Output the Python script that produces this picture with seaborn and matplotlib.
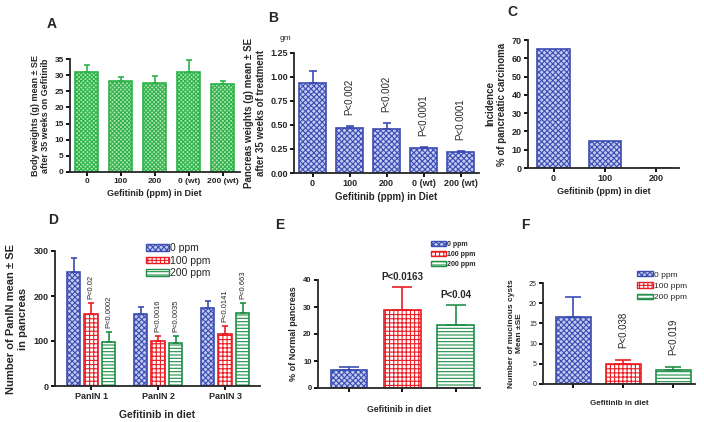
import matplotlib
matplotlib.use("Agg")
import matplotlib.pyplot as plt
from matplotlib.patches import Patch
import numpy as np
import pandas as pd
import seaborn as sns

# ── data ────────────────────────────────────────────────────────────────────
A_DOSES = ["0", "100", "200", "0 (wt)", "200 (wt)"]
A_MEAN = [30.9, 28.3, 27.6, 31.0, 27.3]
A_SE = [2.2, 1.0, 2.2, 3.8, 1.0]

B_DOSES = ["0", "100", "200", "0 (wt)", "200 (wt)"]
B_MEAN = [0.94, 0.47, 0.455, 0.26, 0.218]
B_SE = [0.12, 0.022, 0.063, 0.013, 0.006]
B_PVALS = ["", "P<0.002", "P<0.002", "P<0.0001", "P<0.0001"]

C_DOSES = ["0", "100", "200"]
C_INCIDENCE = [65, 15, 0]

D_GRADES = ["PanIN 1", "PanIN 2", "PanIN 3"]
D_LEVELS = ["0 ppm", "100 ppm", "200 ppm"]
D_MEAN_0 = [253, 159, 174]
D_SE_0 = [31, 17, 14]
D_MEAN_100 = [161, 100, 115]
D_SE_100 = [24, 11, 19]
D_MEAN_200 = [98, 95, 163]
D_SE_200 = [22, 16, 22]
D_PVALS_100 = ["P<0.02", "P<0.0016", "P<0.0141"]
D_PVALS_200 = ["P<0.0002", "P<0.0035", "P<0.663"]

E_MEAN = [6.6, 29.0, 23.4]
E_SE = [1.25, 8.4, 7.5]
E_PVALS = ["", "P<0.0163", "P<0.04"]

F_MEAN = [16.6, 5.0, 3.5]
F_SE = [4.9, 1.0, 0.7]
F_PVALS = ["", "P<0.038", "P<0.019"]

# ── styling ─────────────────────────────────────────────────────────────────
sns.set_theme(style="ticks")
plt.rcParams["font.family"] = ["Liberation Sans", "DejaVu Sans"]
plt.rcParams["axes.linewidth"] = 1.3
plt.rcParams["hatch.linewidth"] = 0.8

FILLS = {
    "green": dict(facecolor="#b4e6b4", edgecolor="#2db34a", hatch="xxxxxxxx"),
    "blue": dict(facecolor="#c4caef", edgecolor="#3b4db3", hatch="xxxxxx"),
    "red": dict(facecolor="white", edgecolor="#ec1c24", hatch="++++"),
    "stripe": dict(facecolor="white", edgecolor="#1f8e46", hatch="-----"),
}
LEVEL_FILLS = ["blue", "red", "stripe"]

W, H = 704, 422


def box(left, top, right, bottom):
    return [left / W, 1 - bottom / H, (right - left) / W, (bottom - top) / H]


def _paint(patch, kind, lw=1.2):
    st = FILLS[kind]
    patch.set_facecolor(st["facecolor"])
    patch.set_edgecolor(st["edgecolor"])
    patch.set_hatch(st["hatch"])
    patch.set_linewidth(lw)


def _errbars(ax, patches, se, color, capsize):
    xs = [p.get_x() + p.get_width() / 2 for p in patches]
    ys = [p.get_height() for p in patches]
    ax.errorbar(xs, ys, yerr=[np.zeros(len(se)), se], fmt="none", ecolor=color,
                elinewidth=1.2, capsize=capsize, capthick=1.2, zorder=3)
    return xs, [y + e for y, e in zip(ys, se)]


def _finish(ax, tick_size, bold=True):
    sns.despine(ax=ax)
    ax.tick_params(width=1.3, length=3, color="black", pad=1.5, labelsize=tick_size)
    for lab in ax.get_xticklabels() + ax.get_yticklabels():
        lab.set_fontweight("bold" if bold else "normal")


def _legend(ax, anchor, size, bold, hl, hh, spacing):
    handles = []
    for lev, kind in zip(D_LEVELS, LEVEL_FILLS):
        h = Patch(label=lev)
        _paint(h, kind, lw=1.0)
        handles.append(h)
    ax.legend(handles=handles, loc="upper left", bbox_to_anchor=anchor,
              bbox_transform=ax.figure.transFigure, frameon=False,
              borderaxespad=0, borderpad=0, handlelength=hl, handleheight=hh,
              handletextpad=0.15, labelspacing=spacing,
              prop=dict(size=size, weight="bold" if bold else "normal"))


fig = plt.figure(figsize=(7.04, 4.22), dpi=100)

# ── A: body weights ─────────────────────────────────────────────────────────
axA = fig.add_axes(box(70, 59, 239.5, 172))
dfA = pd.DataFrame({"dose": A_DOSES, "weight": A_MEAN})
sns.barplot(data=dfA, x="dose", y="weight", order=A_DOSES, width=0.68,
            errorbar=None, ax=axA)
for p in axA.patches:
    _paint(p, "green")
_errbars(axA, axA.patches, A_SE, FILLS["green"]["edgecolor"], 2.5)
axA.set_xlim(-0.5, 4.5)
axA.set_ylim(0, 35)
axA.set_yticks(range(0, 36, 5))
axA.set_xlabel("Gefitinib (ppm) in Diet", fontsize=6.5, fontweight="bold", labelpad=3)
axA.set_ylabel("Body weights (g) mean ± SE\nafter 35 weeks on Gefitinib",
               fontsize=6.5, fontweight="bold", labelpad=3)
_finish(axA, 6)

# ── B: pancreas weights ─────────────────────────────────────────────────────
axB = fig.add_axes(box(294, 53, 479, 173))
dfB = pd.DataFrame({"dose": B_DOSES, "weight": B_MEAN})
sns.barplot(data=dfB, x="dose", y="weight", order=B_DOSES, width=0.72,
            errorbar=None, ax=axB)
for p in axB.patches:
    _paint(p, "blue")
xs, tops = _errbars(axB, axB.patches, B_SE, FILLS["blue"]["edgecolor"], 3)
for x, t, txt in zip(xs, tops, B_PVALS):
    if txt:
        axB.annotate(txt, xy=(x, t), xytext=(0, 8), textcoords="offset points",
                     rotation=90, ha="center", va="bottom", fontsize=7)
axB.set_xlim(-0.5, 4.5)
axB.set_ylim(0, 1.25)
axB.set_yticks([0, 0.25, 0.5, 0.75, 1.0, 1.25])
axB.set_yticklabels([f"{v:.2f}" for v in [0, 0.25, 0.5, 0.75, 1.0, 1.25]])
axB.set_xlabel("Gefitinib (ppm) in Diet", fontsize=7, fontweight="bold", labelpad=3)
axB.set_ylabel("Pancreas weights (g) mean ± SE\nafter 35 weeks of treatment",
               fontsize=7, fontweight="bold", labelpad=3)
_finish(axB, 6.5)
fig.text(285 / W, 1 - 38 / H, "gm", fontsize=6, ha="center", va="center")

# ── C: carcinoma incidence ──────────────────────────────────────────────────
axC = fig.add_axes(box(528, 40, 679, 168))
dfC = pd.DataFrame({"dose": C_DOSES, "incidence": C_INCIDENCE})
sns.barplot(data=dfC, x="dose", y="incidence", order=C_DOSES, width=0.63,
            errorbar=None, ax=axC)
for p in axC.patches:
    _paint(p, "blue")
axC.set_xlim(-0.5, 2.45)
axC.set_ylim(0, 70)
axC.set_yticks(range(0, 71, 10))
axC.set_xlabel("Gefitinib (ppm) in diet", fontsize=6.5, fontweight="bold", labelpad=3)
axC.set_ylabel("Incidence\n% of pancreatic carcinoma", fontsize=7,
               fontweight="bold", labelpad=3)
_finish(axC, 6.5)

# ── D: PanIN counts ─────────────────────────────────────────────────────────
axD = fig.add_axes(box(55, 251, 260, 386))
dfD = pd.DataFrame({
    "grade": D_GRADES * 3,
    "level": [D_LEVELS[0]] * 3 + [D_LEVELS[1]] * 3 + [D_LEVELS[2]] * 3,
    "count": D_MEAN_0 + D_MEAN_100 + D_MEAN_200,
})
sns.barplot(data=dfD, x="grade", y="count", hue="level", order=D_GRADES,
            hue_order=D_LEVELS, width=0.78, gap=0.23, errorbar=None,
            legend=False, ax=axD)
bars = list(axD.patches)
for i, (kind, se) in enumerate(zip(LEVEL_FILLS, [D_SE_0, D_SE_100, D_SE_200])):
    group = bars[3 * i:3 * i + 3]
    for p in group:
        _paint(p, kind)
    xs, tops = _errbars(axD, group, se, FILLS[kind]["edgecolor"], 2.2)
    pvals = [None, D_PVALS_100, D_PVALS_200][i]
    if pvals:
        for x, t, txt in zip(xs, tops, pvals):
            axD.annotate(txt, xy=(x, t), xytext=(0, 3), textcoords="offset points",
                         rotation=90, ha="center", va="bottom", fontsize=5.5)
axD.set_xlim(-0.54, 2.52)
axD.set_ylim(0, 300)
axD.set_yticks([0, 100, 200, 300])
axD.set_xlabel("Gefitinib in diet", fontsize=7.5, fontweight="bold", labelpad=6)
axD.set_ylabel("Number of PanIN mean ± SE\nin pancreas", fontsize=8,
               fontweight="bold", labelpad=4)
_finish(axD, 6.5)
_legend(axD, (146 / W, 1 - 243 / H), 7.5, False, 2.2, 0.6, 0.25)

# ── E: normal pancreas ──────────────────────────────────────────────────────
axE = fig.add_axes(box(318, 280, 480, 388))
dfE = pd.DataFrame({"level": D_LEVELS, "pct": E_MEAN})
sns.barplot(data=dfE, x="level", y="pct", order=D_LEVELS, width=0.69,
            errorbar=None, ax=axE)
xs_all, tops_all = [], []
for p, kind, se in zip(axE.patches, LEVEL_FILLS, E_SE):
    _paint(p, kind)
    xs, tops = _errbars(axE, [p], [se], FILLS[kind]["edgecolor"], 7)
    xs_all += xs
    tops_all += tops
for x, t, txt in zip(xs_all, tops_all, E_PVALS):
    if txt:
        axE.annotate(txt, xy=(x, t), xytext=(0, 3.5), textcoords="offset points",
                     ha="center", va="bottom", fontsize=7, fontweight="bold")
axE.set_xlim(-0.58, 2.45)
axE.set_ylim(0, 40)
axE.set_yticks(range(0, 41, 10))
axE.set_xticklabels([])
axE.set_xlabel("Gefitinib in diet", fontsize=6.3, fontweight="bold", labelpad=8)
axE.set_ylabel("% of Normal pancreas", fontsize=6.5, fontweight="bold", labelpad=4)
_finish(axE, 5.5)
_legend(axE, (431 / W, 1 - 241 / H), 5, True, 2.2, 0.7, 0.45)

# ── F: mucinous cysts ───────────────────────────────────────────────────────
axF = fig.add_axes(box(543, 283, 695, 384))
dfF = pd.DataFrame({"level": D_LEVELS, "cysts": F_MEAN})
sns.barplot(data=dfF, x="level", y="cysts", order=D_LEVELS, width=0.7,
            errorbar=None, ax=axF)
xs_all, tops_all = [], []
for p, kind, se in zip(axF.patches, LEVEL_FILLS, F_SE):
    _paint(p, kind)
    xs, tops = _errbars(axF, [p], [se], FILLS[kind]["edgecolor"], 6)
    xs_all += xs
    tops_all += tops
for x, t, txt in zip(xs_all, tops_all, F_PVALS):
    if txt:
        axF.annotate(txt, xy=(x, t), xytext=(0, 8.5), textcoords="offset points",
                     rotation=90, ha="center", va="bottom", fontsize=7)
axF.set_xlim(-0.6, 2.44)
axF.set_ylim(0, 25)
axF.set_yticks(range(0, 26, 5))
axF.set_xticklabels([])
axF.set_xlabel("Gefitinib in diet", fontsize=5.8, fontweight="bold", labelpad=7)
axF.set_ylabel("Number of mucinous cysts\nMean ±SE", fontsize=6,
               fontweight="bold", labelpad=4)
_finish(axF, 5, bold=False)
_legend(axF, (637 / W, 1 - 271 / H), 6, False, 1.9, 0.6, 0.45)

# ── panel letters ───────────────────────────────────────────────────────────
for letter, (px, py) in zip("ABCDEF", [(52, 24), (273, 18), (512, 12),
                                       (53, 220), (280, 225), (525, 225)]):
    fig.text(px / W, 1 - py / H, letter, fontsize=10, fontweight="bold",
             ha="center", va="center")

fig.savefig("out.png", dpi=100)
